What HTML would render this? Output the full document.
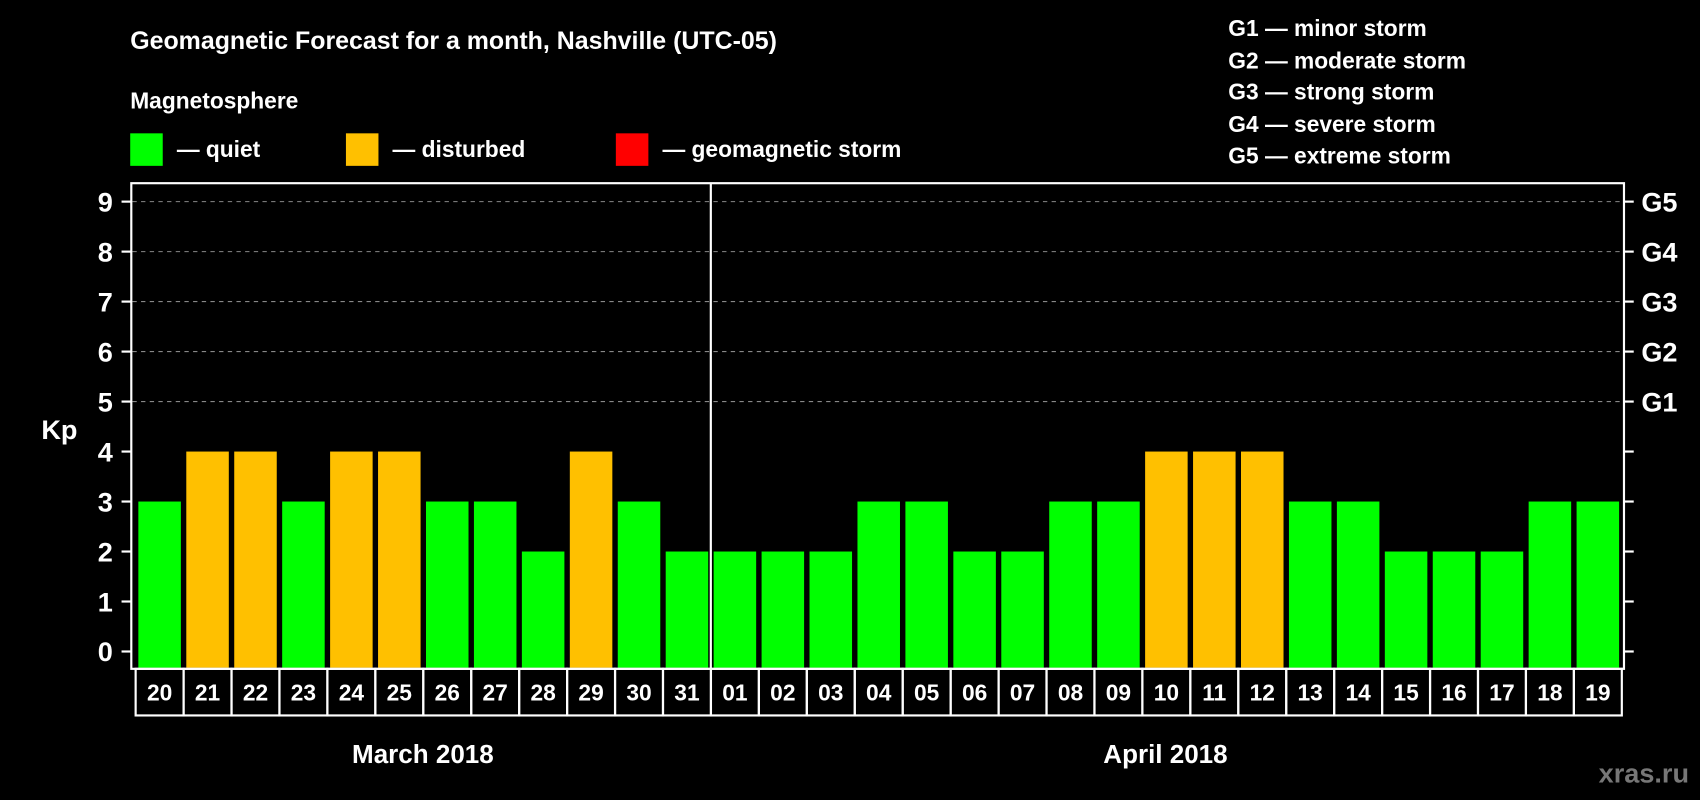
<!DOCTYPE html>
<html><head><meta charset="utf-8"><style>
html,body{margin:0;padding:0;background:#000;}
svg{display:block;font-family:"Liberation Sans",Arial,sans-serif;font-weight:bold;}
</style></head><body>
<svg id="chart" width="1700" height="800" viewBox="0 0 1568 738" xmlns="http://www.w3.org/2000/svg">
<rect width="1568" height="738" fill="#000"/>
<text x="120" y="45" fill="#fff" font-size="23">Geomagnetic Forecast for a month, Nashville (UTC-05)</text>
<text x="120" y="100" fill="#fff" font-size="21">Magnetosphere</text>
<g><rect x="120" y="123" width="30" height="30" fill="#00ff00"/><text x="163" y="145" fill="#fff" font-size="21">— quiet</text></g>
<g><rect x="319" y="123" width="30" height="30" fill="#ffc000"/><text x="362" y="145" fill="#fff" font-size="21">— disturbed</text></g>
<g><rect x="568" y="123" width="30" height="30" fill="#ff0000"/><text x="611" y="145" fill="#fff" font-size="21">— geomagnetic storm</text></g>
<g fill="#fff" font-size="21">
<text x="1133" y="33">G1 — minor storm</text>
<text x="1133" y="63">G2 — moderate storm</text>
<text x="1133" y="92">G3 — strong storm</text>
<text x="1133" y="122">G4 — severe storm</text>
<text x="1133" y="151">G5 — extreme storm</text>
</g>
<text x="38" y="405" fill="#fff" font-size="25">Kp</text>
<g id="grid"></g>
<g id="bars"></g>
<rect x="121" y="169" width="1377" height="448" fill="none" stroke="#fff" stroke-width="2"/>
<line x1="655.6" y1="169" x2="655.6" y2="617" stroke="#fff" stroke-width="2"/>
<g id="axes"></g>
<g id="dates"></g>
<text x="390" y="704" fill="#fff" font-size="24" text-anchor="middle">March 2018</text>
<text x="1075" y="704" fill="#fff" font-size="24" text-anchor="middle">April 2018</text>
<text x="1558" y="722" fill="#777" font-size="25" text-anchor="end">xras.ru</text>
</svg>
<script>
const days = ["20","21","22","23","24","25","26","27","28","29","30","31","01","02","03","04","05","06","07","08","09","10","11","12","13","14","15","16","17","18","19"];
const kpValues = [3,4,4,3,4,4,3,3,2,4,3,2,2,2,2,3,3,2,2,3,3,4,4,4,3,3,2,2,2,3,3];
const yTicks = [0,1,2,3,4,5,6,7,8,9];
const gLabels = ["G1","G2","G3","G4","G5"];
const gLevels = [5,6,7,8,9];

const NS = "http://www.w3.org/2000/svg";
const x0 = 125, pitch = (1496 - 125) / 31;
const yScale = v => 601 - v * (601 - 186) / 9;
const xScale = i => x0 + i * pitch;
function mk(tag, attrs, parent) {
  const e = document.createElementNS(NS, tag);
  for (const k in attrs) e.setAttribute(k, attrs[k]);
  parent.appendChild(e);
  return e;
}
const grid = document.getElementById("grid");
const axes = document.getElementById("axes");
const bars = document.getElementById("bars");
const dates = document.getElementById("dates");

yTicks.forEach(t => {
  const y = yScale(t);
  if (t >= 5) {
    const g = mk("line", {x1:122, x2:1497, y1:y, y2:y, stroke:"#888", "stroke-width":1, "stroke-dasharray":"4,4"}, grid);
    
    
  }
  const tl = mk("line", {x1:112, x2:121, y1:y, y2:y, stroke:"#fff", "stroke-width":2}, axes);
  
  
  const tr = mk("line", {x1:1498, x2:1507, y1:y, y2:y, stroke:"#fff", "stroke-width":2}, axes);
  
  
  const lb = mk("text", {x:104, y:y + 9, fill:"#fff", "font-size":25, "text-anchor":"end"}, axes);
  lb.textContent = t;
  
  
});
gLabels.forEach((g, i) => {
  const t = mk("text", {x:1514, y:yScale(gLevels[i]) + 9, fill:"#fff", "font-size":25}, axes);
  t.textContent = g;
  
  
});
kpValues.forEach((v, i) => {
  const col = v >= 5 ? "#ff0000" : (v >= 4 ? "#ffc000" : "#00ff00");
  const b = mk("rect", {x:xScale(i) + 2.5, y:yScale(v), width:pitch - 5, height:yScale(0) + 16 - yScale(v) - 1, fill:col}, bars);
  
  
  const box = mk("rect", {x:xScale(i), y:617, width:pitch, height:43, fill:"none", stroke:"#fff", "stroke-width":2}, dates);
  
  
  const t = mk("text", {x:xScale(i) + pitch / 2, y:646, fill:"#fff", "font-size":21, "text-anchor":"middle"}, dates);
  t.textContent = days[i];
  
  
});
</script>
</body></html>
